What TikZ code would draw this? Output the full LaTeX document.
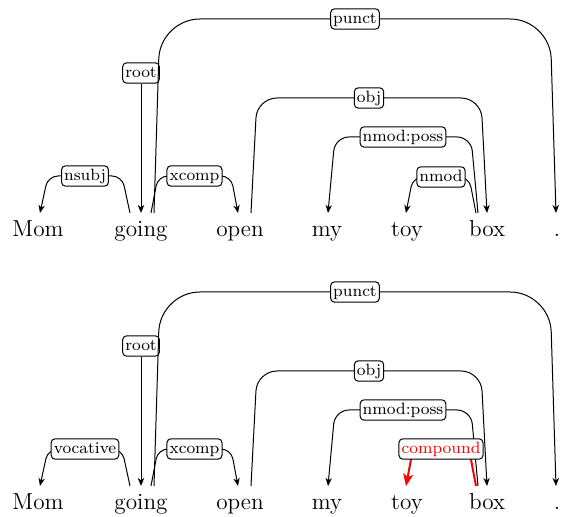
\documentclass[tikz,border=0pt]{standalone}
\usepackage{fontspec}
\usetikzlibrary{calc,arrows.meta}

\tikzset{
  word/.style={anchor=base, inner sep=0pt, font=\fontsize{11.6}{14}\selectfont},
  rel/.style={draw=black, fill=white, line width=0.5pt, rounded corners=2pt, inner xsep=1.3pt, inner ysep=1.2pt,
    text height=6pt, text depth=1.8pt, font=\fontsize{8.2}{10}\selectfont},
  dep/.style={->, line width=0.5pt},
  hl/.style={red, line width=1pt, -{Stealth[length=6pt,width=5pt,inset=1.5pt]}},
}

% [opts] tail, tail dx, head, head dx, slant, height, radius, label
\newcommand{\deparc}[9][]{%
  \draw[dep, rounded corners=#8, #1] ($(#2.base)+(#3,-24)$) -- ++(#6,-#7)
    -- node[rel]{#9} ($(#4.base)+({#5-(#6)},{-24-#7})$) -- ($(#4.base)+(#5,-24)$);
}

\begin{document}
\begin{tikzpicture}[x=0.5pt, y=-0.5pt, >={Stealth[length=4pt,width=3.2pt,inset=1.2pt]}]
\useasboundingbox (0,0) rectangle (569,517);

\foreach \w/\x [count=\i] in {Mom/38,going/141,open/240,my/327,toy/407,box/487,./557} {
  \node [word] (a-\i) at (\x,237) {\w};
  \node [word] (b-\i) at (\x,510) {\w};
}

% upper parse
\node [rel] (root-a) at (141,73) {root};
\draw [dep] (root-a) -- ($(a-2.base)+(0,-24)$);
\deparc{a-2}{-11}{a-1}{2}{-8}{37}{5pt}{nsubj}
\deparc{a-2}{10}{a-3}{-2}{7}{37}{5pt}{xcomp}
\deparc{a-2}{13}{a-7}{-1}{6}{194}{20pt}{punct}
\deparc{a-3}{11}{a-6}{0}{6}{115}{10pt}{obj}
\deparc{a-6}{-9}{a-4}{1}{-7}{76}{7pt}{nmod:poss}
\deparc{a-6}{-11}{a-5}{-1}{-7}{36}{5pt}{nmod}

% lower parse
\node [rel] (root-b) at (141,346) {root};
\draw [dep] (root-b) -- ($(b-2.base)+(0,-24)$);
\deparc{b-2}{-11}{b-1}{2}{-8}{37}{5pt}{vocative}
\deparc{b-2}{10}{b-3}{-2}{7}{37}{5pt}{xcomp}
\deparc{b-2}{13}{b-7}{-1}{6}{194}{20pt}{punct}
\deparc{b-3}{11}{b-6}{0}{6}{115}{10pt}{obj}
\deparc{b-6}{-9}{b-4}{1}{-7}{76}{7pt}{nmod:poss}
\deparc[hl]{b-6}{-11}{b-5}{-1}{-7}{37}{5pt}{compound}

\end{tikzpicture}
\end{document}
